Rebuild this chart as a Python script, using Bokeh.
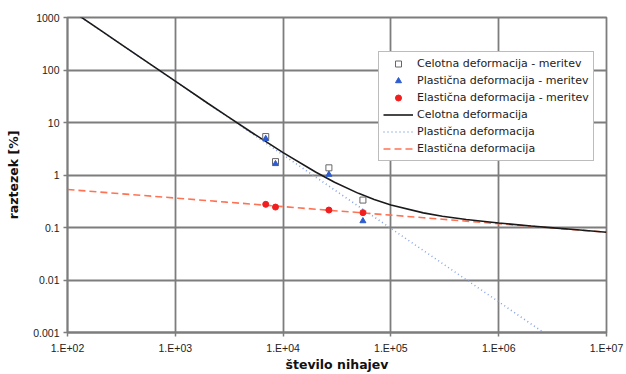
from bokeh.plotting import figure
from bokeh.models import (FixedTicker, CustomJSTickFormatter, Legend, LegendItem,
                          Range1d)
from bokeh.embed import file_html
from bokeh.resources import INLINE

# ---------------- data ----------------
x_tick_values = [1e2, 1e3, 1e4, 1e5, 1e6, 1e7]
x_tick_labels = ["1.E+02", "1.E+03", "1.E+04", "1.E+05", "1.E+06", "1.E+07"]
y_tick_values = [0.001, 0.01, 0.1, 1, 10, 100, 1000]
y_tick_labels = ["0.001", "0.01", "0.1", "1", "10", "100", "1000"]

meas_N = [6900, 8500, 26600, 55000]
meas_total = [5.4, 1.8, 1.37, 0.333]
meas_plastic = [4.9, 1.63, 1.02, 0.133]
meas_elastic = [0.276, 0.245, 0.215, 0.192]

curve_N = [125, 200, 300, 500, 1e3, 2e3, 3e3, 5e3, 1e4, 2e4, 3e4, 5e4, 7e4,
           1e5, 2e5, 3e5, 5e5, 1e6, 2e6, 3e6, 5e6, 1e7]
curve_total = [1117.5, 579.2, 328.4, 160.8, 61.2, 23.3, 13.36, 6.67, 2.67,
               1.14, 0.729, 0.447, 0.341, 0.268, 0.190, 0.164, 0.142, 0.122,
               0.107, 0.0996, 0.0913, 0.0814]
curve_plastic = [1117, 578.7, 328, 160.4, 60.8, 23.0, 13.06, 6.39, 2.42,
                 0.917, 0.520, 0.254, 0.1588, 0.0963, 0.0365, 0.0207, 0.0101,
                 0.00384, 0.00145, 0.000824, 0.000403, 0.000153]
elastic_N = [100, 200, 300, 500, 1e3, 2e3, 3e3, 5e3, 1e4, 2e4, 3e4, 5e4, 7e4,
             1e5, 2e5, 3e5, 5e5, 1e6, 2e6, 3e6, 5e6, 1e7]
curve_elastic = [0.53, 0.473, 0.443, 0.408, 0.364, 0.325, 0.304, 0.280, 0.250,
                 0.223, 0.209, 0.193, 0.182, 0.172, 0.1536, 0.1437, 0.1322,
                 0.1181, 0.1055, 0.0988, 0.0909, 0.0812]

legend_labels = ["Celotna deformacija - meritev",
                 "Plastična deformacija - meritev",
                 "Elastična deformacija - meritev",
                 "Celotna deformacija",
                 "Plastična deformacija",
                 "Elastična deformacija"]

x_label = "število nihajev"
y_label = "raztezek [%]"

# ---------------- figure ----------------
GRID = "#7d7d7d"
p = figure(width=626, height=374, x_axis_type="log", y_axis_type="log",
           x_range=Range1d(1e2, 1e7), y_range=Range1d(0.001, 1000),
           output_backend="svg", toolbar_location=None,
           min_border_left=67, min_border_right=20,
           min_border_top=17, min_border_bottom=40)
p.background_fill_color = "white"
p.border_fill_color = "white"
p.outline_line_color = GRID
p.outline_line_width = 1.8

p.xaxis.ticker = FixedTicker(ticks=x_tick_values, minor_ticks=[])
p.yaxis.ticker = FixedTicker(ticks=y_tick_values, minor_ticks=[])
p.xaxis.formatter = CustomJSTickFormatter(
    args=dict(labels=x_tick_labels),
    code="return labels[Math.round(Math.log10(tick)) - 2];")
p.yaxis.formatter = CustomJSTickFormatter(
    args=dict(labels=y_tick_labels),
    code="return labels[Math.round(Math.log10(tick)) + 3];")

for ax in (p.xaxis, p.yaxis):
    ax.axis_line_color = GRID
    ax.axis_line_width = 1.8
    ax.major_tick_line_color = GRID
    ax.major_tick_line_width = 1.5
    ax.major_tick_out = 4
    ax.major_tick_in = 0
    ax.minor_tick_line_color = None
    ax.major_label_text_font = "Liberation Sans"
    ax.major_label_text_font_size = "10.5px"
    ax.major_label_text_color = "#222222"
    ax.axis_label_text_font = "DejaVu Sans"
    ax.axis_label_text_font_style = "bold"
    ax.axis_label_text_font_size = "12.5px"
    ax.axis_label_text_color = "#111111"

p.xaxis.axis_label = x_label
p.yaxis.axis_label = y_label
p.xaxis.major_label_standoff = 5
p.xaxis.axis_label_standoff = 0
p.yaxis.major_label_standoff = 4
p.yaxis.axis_label_standoff = 9

p.xgrid.grid_line_color = GRID
p.ygrid.grid_line_color = GRID
p.xgrid.grid_line_width = 1.8
p.ygrid.grid_line_width = 1.8

# curves
r_pl = p.line(curve_N, curve_plastic, line_color="#86a2e6", line_width=1.6,
              line_dash="1 3")
r_el = p.line(elastic_N, curve_elastic, line_color="#ff7355", line_width=1.6,
              line_dash="7 4")
r_tot = p.line(curve_N, curve_total, line_color="#1a1a1a", line_width=1.6)

# measurements
r_mt = p.scatter(meas_N, meas_total, marker="square", size=6,
                 fill_color="white", line_color="#666666", line_width=1)
r_mp = p.scatter(meas_N, meas_plastic, marker="triangle", size=6,
                 fill_color="#2e5bd0", line_color="#2e5bd0")
r_me = p.scatter(meas_N, meas_elastic, marker="circle", size=6,
                 fill_color="#f01e1e", line_color="#f01e1e")

legend = Legend(items=[
    LegendItem(label=legend_labels[0], renderers=[r_mt]),
    LegendItem(label=legend_labels[1], renderers=[r_mp]),
    LegendItem(label=legend_labels[2], renderers=[r_me]),
    LegendItem(label=legend_labels[3], renderers=[r_tot]),
    LegendItem(label=legend_labels[4], renderers=[r_pl]),
    LegendItem(label=legend_labels[5], renderers=[r_el]),
], location=(311, 171))
legend.margin = 0
legend.padding = 4
legend.spacing = 2
legend.glyph_width = 30
legend.glyph_height = 15
legend.label_height = 15
legend.label_standoff = 4
legend.label_text_font = "DejaVu Sans"
legend.label_text_font_size = "11px"
legend.label_text_color = "#222222"
legend.border_line_color = "#7a7a7a"
legend.border_line_width = 1
legend.background_fill_color = "white"
legend.background_fill_alpha = 1.0
p.add_layout(legend, "center")

open("out.html", "w").write(file_html(p, INLINE))
